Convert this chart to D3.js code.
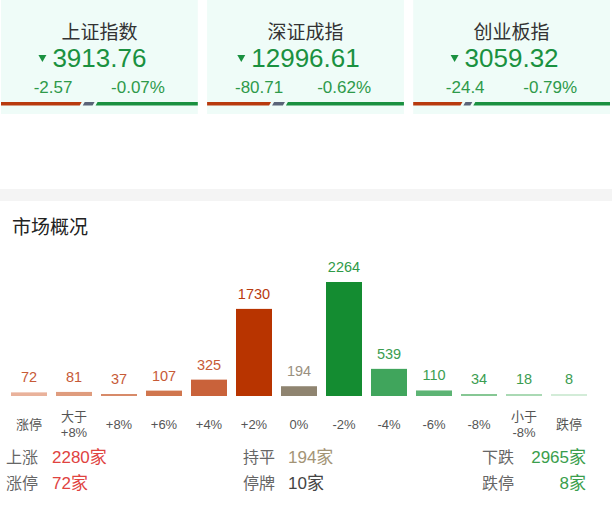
<!DOCTYPE html>
<html><head><meta charset="utf-8">
<script src="https://cdn.jsdelivr.net/npm/d3@7"></script>
<style>
html,body{margin:0;padding:0;background:#fff;}
svg{display:block;font-family:"Liberation Sans","Noto Sans CJK SC",sans-serif;}
</style></head>
<body>
<script>
// ---- data ----
const indexNames = ["上证指数", "深证成指", "创业板指"];
const indexValues = ["3913.76", "12996.61", "3059.32"];
const indexChanges = ["-2.57", "-80.71", "-24.4"];
const indexPcts = ["-0.07%", "-0.62%", "-0.79%"];
// fractions of up / flat / down for the small breadth bar under each card
const upFrac = [0.40, 0.315, 0.24];
const flatFrac = [0.05, 0.055, 0.035];

const categories = ["涨停", "大于\n+8%", "+8%", "+6%", "+4%", "+2%", "0%", "-2%", "-4%", "-6%", "-8%", "小于\n-8%", "跌停"];
const counts = [72, 81, 37, 107, 325, 1730, 194, 2264, 539, 110, 34, 18, 8];
const barColors = ["#e9b29b", "#df9c7e", "#d78a69", "#d0764e", "#c9623a", "#b83400", "#8f8470", "#148c31", "#40a55c", "#5db474", "#86c794", "#aad9b4", "#d3ecd8"];
const labelColors = ["#c75a37", "#c75a37", "#c75a37", "#c75a37", "#c75a37", "#b83a10", "#9a9080", "#2f9a48", "#3b9d51", "#3b9d51", "#3b9d51", "#3b9d51", "#3b9d51"];

const statLeftLabels = ["上涨", "涨停"], statLeftValues = ["2280家", "72家"];
const statMidLabels = ["持平", "停牌"], statMidValues = ["194家", "10家"];
const statRightLabels = ["下跌", "跌停"], statRightValues = ["2965家", "8家"];

// ---- drawing ----
const W = 612, H = 514;
const svg = d3.select("body").append("svg").attr("width", W).attr("height", H);

const RED = "#b83a0e", GREEN = "#1a9140", DASH = "#5a6478";
const cardX = d3.scaleBand().domain(d3.range(3)).range([1, 610]).paddingInner(0.045);
const cw = cardX.bandwidth();

const cards = svg.selectAll("g.card").data(indexNames).join("g")
  .attr("class", "card").attr("transform", (d, i) => `translate(${cardX(i)},0)`);
cards.append("rect").attr("width", cw).attr("height", 114).attr("fill", "#effcf8");
cards.append("text").attr("x", cw / 2).attr("y", 39).attr("text-anchor", "middle")
  .attr("font-size", 19).attr("fill", "#333").text(d => d);
cards.append("text").attr("x", cw / 2).attr("y", 67).attr("text-anchor", "middle")
  .attr("font-size", 26).attr("fill", GREEN).text((d, i) => indexValues[i])
  .each(function (d, i) {
    const bb = this.getBBox();
    d3.select(this.parentNode).append("path")
      .attr("d", `M${bb.x - 14},${55} l8,0 l-4,7 z`).attr("fill", GREEN);
  });
cards.append("text").attr("x", 52).attr("y", 93).attr("text-anchor", "middle")
  .attr("font-size", 17).attr("fill", "#2e9a4a").text((d, i) => indexChanges[i]);
cards.append("text").attr("x", 137).attr("y", 93).attr("text-anchor", "middle")
  .attr("font-size", 17).attr("fill", "#2e9a4a").text((d, i) => indexPcts[i]);
cards.each(function (d, i) {
  const g = d3.select(this);
  const x1 = upFrac[i] * cw, x2 = x1 + 3, x3 = x2 + flatFrac[i] * cw, x4 = x3 + 3;
  const y = 102, h = 3.5;
  g.append("path").attr("d", `M0,${y} L${x1 + 2},${y} L${x1},${y + h} L0,${y + h} Z`).attr("fill", RED);
  g.append("path").attr("d", `M${x2 + 2},${y} L${x3 + 2},${y} L${x3},${y + h} L${x2},${y + h} Z`).attr("fill", DASH);
  g.append("path").attr("d", `M${x4 + 2},${y} L${cw},${y} L${cw},${y + h} L${x4},${y + h} Z`).attr("fill", GREEN);
});

// separator band
svg.append("rect").attr("x", 0).attr("y", 189).attr("width", W).attr("height", 12).attr("fill", "#f4f4f4");

// title
svg.append("text").attr("x", 12).attr("y", 234).attr("font-size", 19).attr("fill", "#222").text("市场概况");

// bar chart
const x = d3.scaleBand().domain(categories).range([6.5, 591.5]).paddingInner(0.2).paddingOuter(0.1);
const y = d3.scaleLinear().domain([0, 2264]).range([396, 282]);
const base = y(0);
const bh = v => Math.max(2, base - y(v));

const bars = svg.selectAll("g.bar").data(categories).join("g").attr("class", "bar");
bars.append("rect")
  .attr("x", d => x(d)).attr("width", x.bandwidth())
  .attr("y", (d, i) => base - bh(counts[i])).attr("height", (d, i) => bh(counts[i]))
  .attr("fill", (d, i) => barColors[i]);
bars.append("text")
  .attr("x", d => x(d) + x.bandwidth() / 2)
  .attr("y", (d, i) => base - bh(counts[i]) - 10)
  .attr("text-anchor", "middle").attr("font-size", 14.5)
  .attr("fill", (d, i) => labelColors[i]).text((d, i) => counts[i]);
bars.each(function (d) {
  const lines = d.split("\n");
  const t = d3.select(this).append("text").attr("text-anchor", "middle").attr("font-size", 13).attr("fill", "#555");
  const cx = x(d) + x.bandwidth() / 2;
  if (lines.length === 1) {
    t.append("tspan").attr("x", cx).attr("y", 429).text(lines[0]);
  } else {
    t.append("tspan").attr("x", cx).attr("y", 421).text(lines[0]);
    t.append("tspan").attr("x", cx).attr("y", 437).text(lines[1]);
  }
});

// stats
const rowsY = [463, 489];
function stat(labels, values, lx, vx, vAnchor, colors) {
  labels.forEach((l, i) => {
    svg.append("text").attr("x", lx).attr("y", rowsY[i]).attr("font-size", 16).attr("fill", "#666").text(l);
    svg.append("text").attr("x", vx).attr("y", rowsY[i]).attr("font-size", 17).attr("text-anchor", vAnchor)
      .attr("fill", colors[i]).text(values[i]);
  });
}
stat(statLeftLabels, statLeftValues, 6, 52, "start", ["#e0433f", "#e0433f"]);
stat(statMidLabels, statMidValues, 243, 288, "start", ["#a39476", "#444"]);
stat(statRightLabels, statRightValues, 482, 586, "end", ["#3a9e4c", "#3a9e4c"]);
</script>
</body></html>
